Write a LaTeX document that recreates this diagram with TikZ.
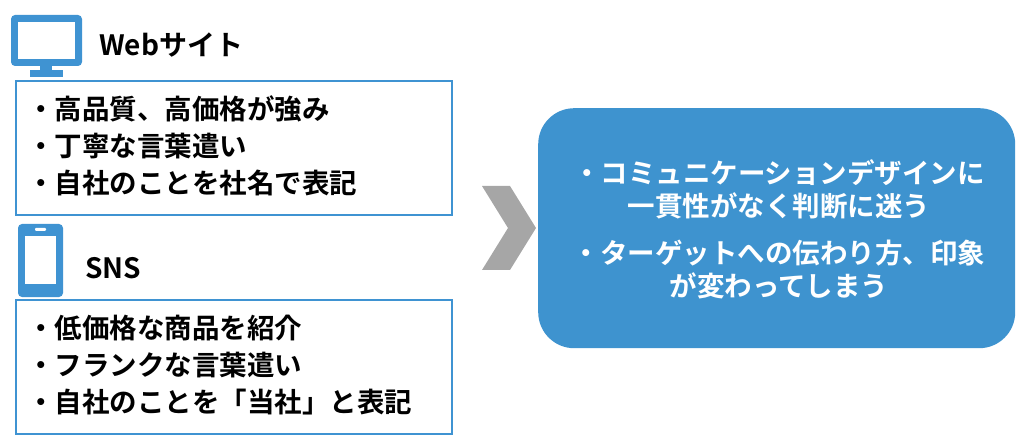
\documentclass[tikz,border=0pt]{standalone}
\usepackage{fontspec}
\setmainfont{Noto Sans CJK JP}[BoldFont={* Bold}]
\newfontfamily\jpb{Noto Sans CJK JP Bold}
\definecolor{iblue}{HTML}{3F93D2}
\definecolor{bblue}{HTML}{3E93CF}
\definecolor{chev}{HTML}{A6A6A6}
\begin{document}
\begin{tikzpicture}[x=1pt,y=-1pt,
  lbox/.style={draw=iblue,line width=2.2pt,fill=white},
  ltext/.style={anchor=west,font=\jpb\fontsize{27.5}{37}\selectfont,align=left,inner sep=0pt},
  head/.style={anchor=west,font=\jpb\fontsize{28}{30}\selectfont,inner sep=0pt}]
\useasboundingbox (0,0) rectangle (1024,443);
% monitor icon
\fill[iblue,rounded corners=4pt] (11,15) rectangle (82,66);
\fill[white] (18,22) rectangle (75,59);
\fill[iblue] (40,65) rectangle (52,72);
\fill[iblue] (30,70) rectangle (63,77);
\node[head] (web) at (99,45) {Webサイト};
\node[lbox,minimum width=436pt,minimum height=134pt,anchor=north west] (b1) at (15,80) {};
\node[ltext] (t1) at (27,146) {・高品質、高価格が強み\\・丁寧な言葉遣い\\・自社のことを社名で表記};
% phone icon
\fill[iblue,rounded corners=4pt] (18,224) rectangle (63,297);
\fill[white] (25,236) rectangle (56,284);
\fill[white,rounded corners=1pt] (35,228) rectangle (46,231);
\node[head] (sns) at (85,268) {SNS};
\node[lbox,minimum width=436pt,minimum height=134pt,anchor=north west] (b2) at (15,299) {};
\node[ltext] (t2) at (27,365) {・低価格な商品を紹介\\・フランクな言葉遣い\\・自社のことを「当社」と表記};
% chevron
\fill[chev] (482,186) -- (510,186) -- (536,228) -- (510,270) -- (482,270) -- (508,228) -- cycle;
\node[fill=bblue,rounded corners=36pt,minimum width=477pt,minimum height=240pt,anchor=north west] (rb) at (538,108) {};
\node[font=\jpb\fontsize{27.5}{33}\selectfont,text=white,align=center] (rt) at (779,229)
  {・コミュニケーションデザインに\\一貫性がなく判断に迷う\\[14pt]・ターゲットへの伝わり方、印象\\が変わってしまう};
\end{tikzpicture}
\end{document}
